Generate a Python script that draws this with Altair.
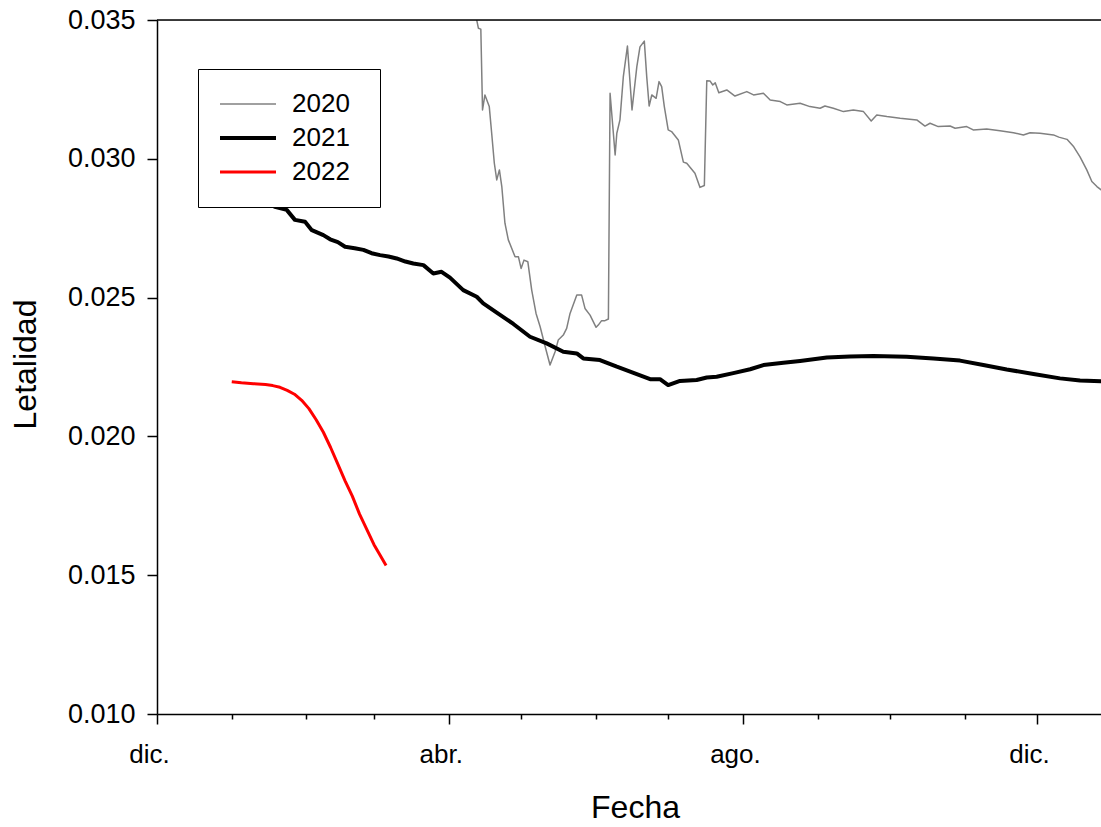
import altair as alt
import pandas as pd

FONT = "Liberation Sans"

# x = days since 1 December (non-leap calendar), y = letalidad
days_2020 = [131.5, 132.6, 133.3, 134.3, 135.0, 136.0, 137.8, 138.8, 139.9, 140.9,
             142.0, 143.0, 144.3, 145.7, 148.5, 149.9, 151.0, 152.2, 153.8, 155.4,
             157.2, 158.9, 161.0, 163.0, 165.1, 166.4, 168.5, 169.9, 171.3, 174.1,
             176.1, 177.5, 179.6, 182.1, 183.0, 184.4, 185.8, 187.2, 187.9, 190.0,
             190.7, 192.0, 193.4, 195.1, 197.0, 199.0, 200.3, 202.1, 203.1, 204.1,
             205.2, 207.0, 208.2, 209.3, 210.4, 212.0, 213.4, 216.2, 218.3, 219.7,
             223.1, 225.2, 227.0, 228.0, 229.4, 230.5, 231.5, 233.0, 236.3, 239.7,
             244.6, 247.4, 251.5, 254.3, 258.5, 261.2, 266.7, 270.8, 275.0, 277.0,
             280.5, 284.7, 288.8, 293.0, 296.2, 298.5, 302.7, 308.2, 315.1, 318.5,
             320.6, 324.0, 328.9, 331.0, 335.8, 338.5, 344.1, 349.6, 355.2, 359.3,
             362.1, 366.2, 371.8, 374.0, 377.4, 380.2, 382.8, 385.6, 387.7, 389.8,
             392.0]
vals_2020 = [0.0380, 0.0350, 0.03470, 0.03467, 0.03176, 0.03230, 0.03188, 0.03092, 0.02984, 0.02924,
             0.02960, 0.02900, 0.02768, 0.02708, 0.02647, 0.02647, 0.02605, 0.02635, 0.02629, 0.02527,
             0.02443, 0.02395, 0.02323, 0.02257, 0.02305, 0.02347, 0.02365, 0.02389, 0.02443, 0.02509,
             0.02509, 0.02461, 0.02437, 0.02393, 0.02401, 0.02417, 0.02417, 0.02423, 0.03236, 0.03014,
             0.03092, 0.03140, 0.03296, 0.03406, 0.03176, 0.03332, 0.03403, 0.03424, 0.03296, 0.03190,
             0.03230, 0.03218, 0.03278, 0.03260, 0.03188, 0.03104, 0.03098, 0.03068, 0.02988, 0.02984,
             0.02948, 0.02897, 0.02904, 0.03281, 0.03280, 0.03266, 0.03274, 0.03238, 0.03248, 0.03226,
             0.03242, 0.03230, 0.03236, 0.03212, 0.03206, 0.03194, 0.03200, 0.03188, 0.03182, 0.03190,
             0.03182, 0.03170, 0.03176, 0.03170, 0.03136, 0.03158, 0.03152, 0.03146, 0.03140, 0.03118,
             0.03128, 0.03116, 0.03118, 0.03110, 0.03116, 0.03104, 0.03107, 0.03101, 0.03094, 0.03086,
             0.03094, 0.03092, 0.03086, 0.03078, 0.03070, 0.03043, 0.03007, 0.02960, 0.02918, 0.02900,
             0.02885]

days_2021 = [31, 38, 44, 48.9, 53.8, 57.2, 61.4, 64.2, 69.0, 71.8, 75, 78.0, 82, 85.6, 89,
             92.5, 96, 99.4, 103, 106.3, 110.5, 114.6, 118.0, 121.5, 127.0, 132.6, 135.3,
             140.9, 147.8, 154.7, 161.6, 168.5, 174.1, 176.8, 183.7, 190.7, 197.6, 204.5,
             208.6, 212.0, 216.9, 223.8, 228, 232.1, 239.0, 246.0, 251.5, 259.8, 266.7,
             277.8, 287.4, 297.1, 310.9, 322.0, 333.0, 342.7, 352.4, 363.5, 374.5, 382.8, 392.0]
vals_2021 = [0.0294, 0.0290, 0.02860, 0.02827, 0.02816, 0.02780, 0.02773, 0.02743, 0.02725, 0.02710,
             0.02700, 0.02683, 0.02678, 0.02672, 0.02660, 0.02653, 0.02648, 0.02641, 0.02630, 0.02623,
             0.02617, 0.02587, 0.02593, 0.02572, 0.02527, 0.02503, 0.02479, 0.02446, 0.02405, 0.02359,
             0.02335, 0.02305, 0.02299, 0.02281, 0.02275, 0.02251, 0.02229, 0.02206, 0.02206, 0.02185,
             0.02200, 0.02203, 0.02212, 0.02215, 0.02228, 0.02242, 0.02257, 0.02265, 0.02272, 0.02284,
             0.02288, 0.02290, 0.02287, 0.02281, 0.02273, 0.02257, 0.02241, 0.02225, 0.02209, 0.02201,
             0.02199]

days_2022 = [31, 35, 40, 45, 48, 51, 54, 57, 60, 63, 66, 69, 72, 75, 78, 81, 84, 87, 90, 92, 95]
vals_2022 = [0.02197, 0.02193, 0.02190, 0.02187, 0.02183, 0.02177, 0.02166, 0.02152, 0.02130, 0.02100,
             0.02060, 0.02015, 0.01960, 0.01900, 0.01840, 0.01785, 0.01720, 0.01665, 0.01610, 0.01580,
             0.01535]

years = ["2020", "2021", "2022"]
colors = ["#808080", "#000000", "#ff0000"]
widths = [1.5, 4.0, 3.0]

month_ticks = [0, 31, 62, 90, 121, 151, 182, 212, 243, 274, 304, 335, 365]
month_labels = {0: "dic.", 121: "abr.", 243: "ago.", 365: "dic."}
y_ticks = [0.010, 0.015, 0.020, 0.025, 0.030, 0.035]

frames = []
for yr, d, v in zip(years, [days_2020, days_2021, days_2022], [vals_2020, vals_2021, vals_2022]):
    frames.append(pd.DataFrame({"day": d, "value": v, "year": yr}))
df = pd.concat(frames, ignore_index=True)

label_expr = " : ".join(
    [f"datum.value == {k} ? '{lab}'" for k, lab in month_labels.items()]
) + " : ''"
major_test = "indexof([" + ",".join(str(k) for k in month_labels) + "], datum.value) >= 0"

leg = alt.Legend(
    title=" ", titleOrient="right", titlePadding=8, titleFontSize=1,
    orient="none", legendX=41, legendY=49,
    symbolType="stroke", symbolSize=3721, symbolOffset=-7, clipHeight=26, rowPadding=8,
    padding=22, labelOffset=14, labelFontSize=26, labelFont=FONT, labelColor="black",
    strokeColor="black", fillColor="white",
)

lines = alt.Chart(df).mark_line(clip=True, strokeJoin="round").encode(
    x=alt.X("day:Q", title="Fecha",
            scale=alt.Scale(domain=[0, 391.5], nice=False, zero=False),
            axis=alt.Axis(values=month_ticks, labelExpr=label_expr, grid=False,
                          tickSize={"condition": {"test": major_test, "value": 10}, "value": 5},
                          tickWidth=1.5, tickColor="black", domainWidth=1.5, domainColor="black",
                          labelFontSize=26, labelFont=FONT, labelColor="black",
                          labelPadding=17, labelOffset=-8, labelFlush=False,
                          titleFontSize=32, titleFont=FONT, titleFontWeight="normal", titleColor="black",
                          titleX=478, titleY=103, titleBaseline="alphabetic", titleAlign="center")),
    y=alt.Y("value:Q", title="Letalidad",
            scale=alt.Scale(domain=[0.010, 0.035], nice=False, zero=False),
            axis=alt.Axis(values=y_ticks, format=".3f", grid=False, tickSize=10,
                          tickWidth=1.5, tickColor="black", domainWidth=1.5, domainColor="black",
                          labelFontSize=27, labelFont=FONT, labelColor="black", labelPadding=12,
                          titleFontSize=32, titleFont=FONT, titleFontWeight="normal", titleColor="black",
                          titleAngle=-90, titleX=-122, titleY=344, titleBaseline="alphabetic",
                          titleAlign="center")),
    color=alt.Color("year:N", scale=alt.Scale(domain=years, range=colors), legend=leg),
    strokeWidth=alt.StrokeWidth("year:N", scale=alt.Scale(type="ordinal", domain=years, range=widths),
                                legend=leg),
)

top = alt.Chart(pd.DataFrame({"k": [0]})).mark_rule(color="black", strokeWidth=1.5).encode(
    x=alt.value(0), x2=alt.value(944), y=alt.value(0)
)

chart = alt.layer(lines, top).properties(
    width=944, height=694,
    autosize=alt.AutoSizeParams(type="none"),
    padding={"left": 157, "top": 20, "right": 0, "bottom": 113},
).configure_view(strokeWidth=0).configure_legend(strokeWidth=1.5).configure(background="white")

chart.save("out.html", embed_options={"renderer": "svg", "actions": False})
